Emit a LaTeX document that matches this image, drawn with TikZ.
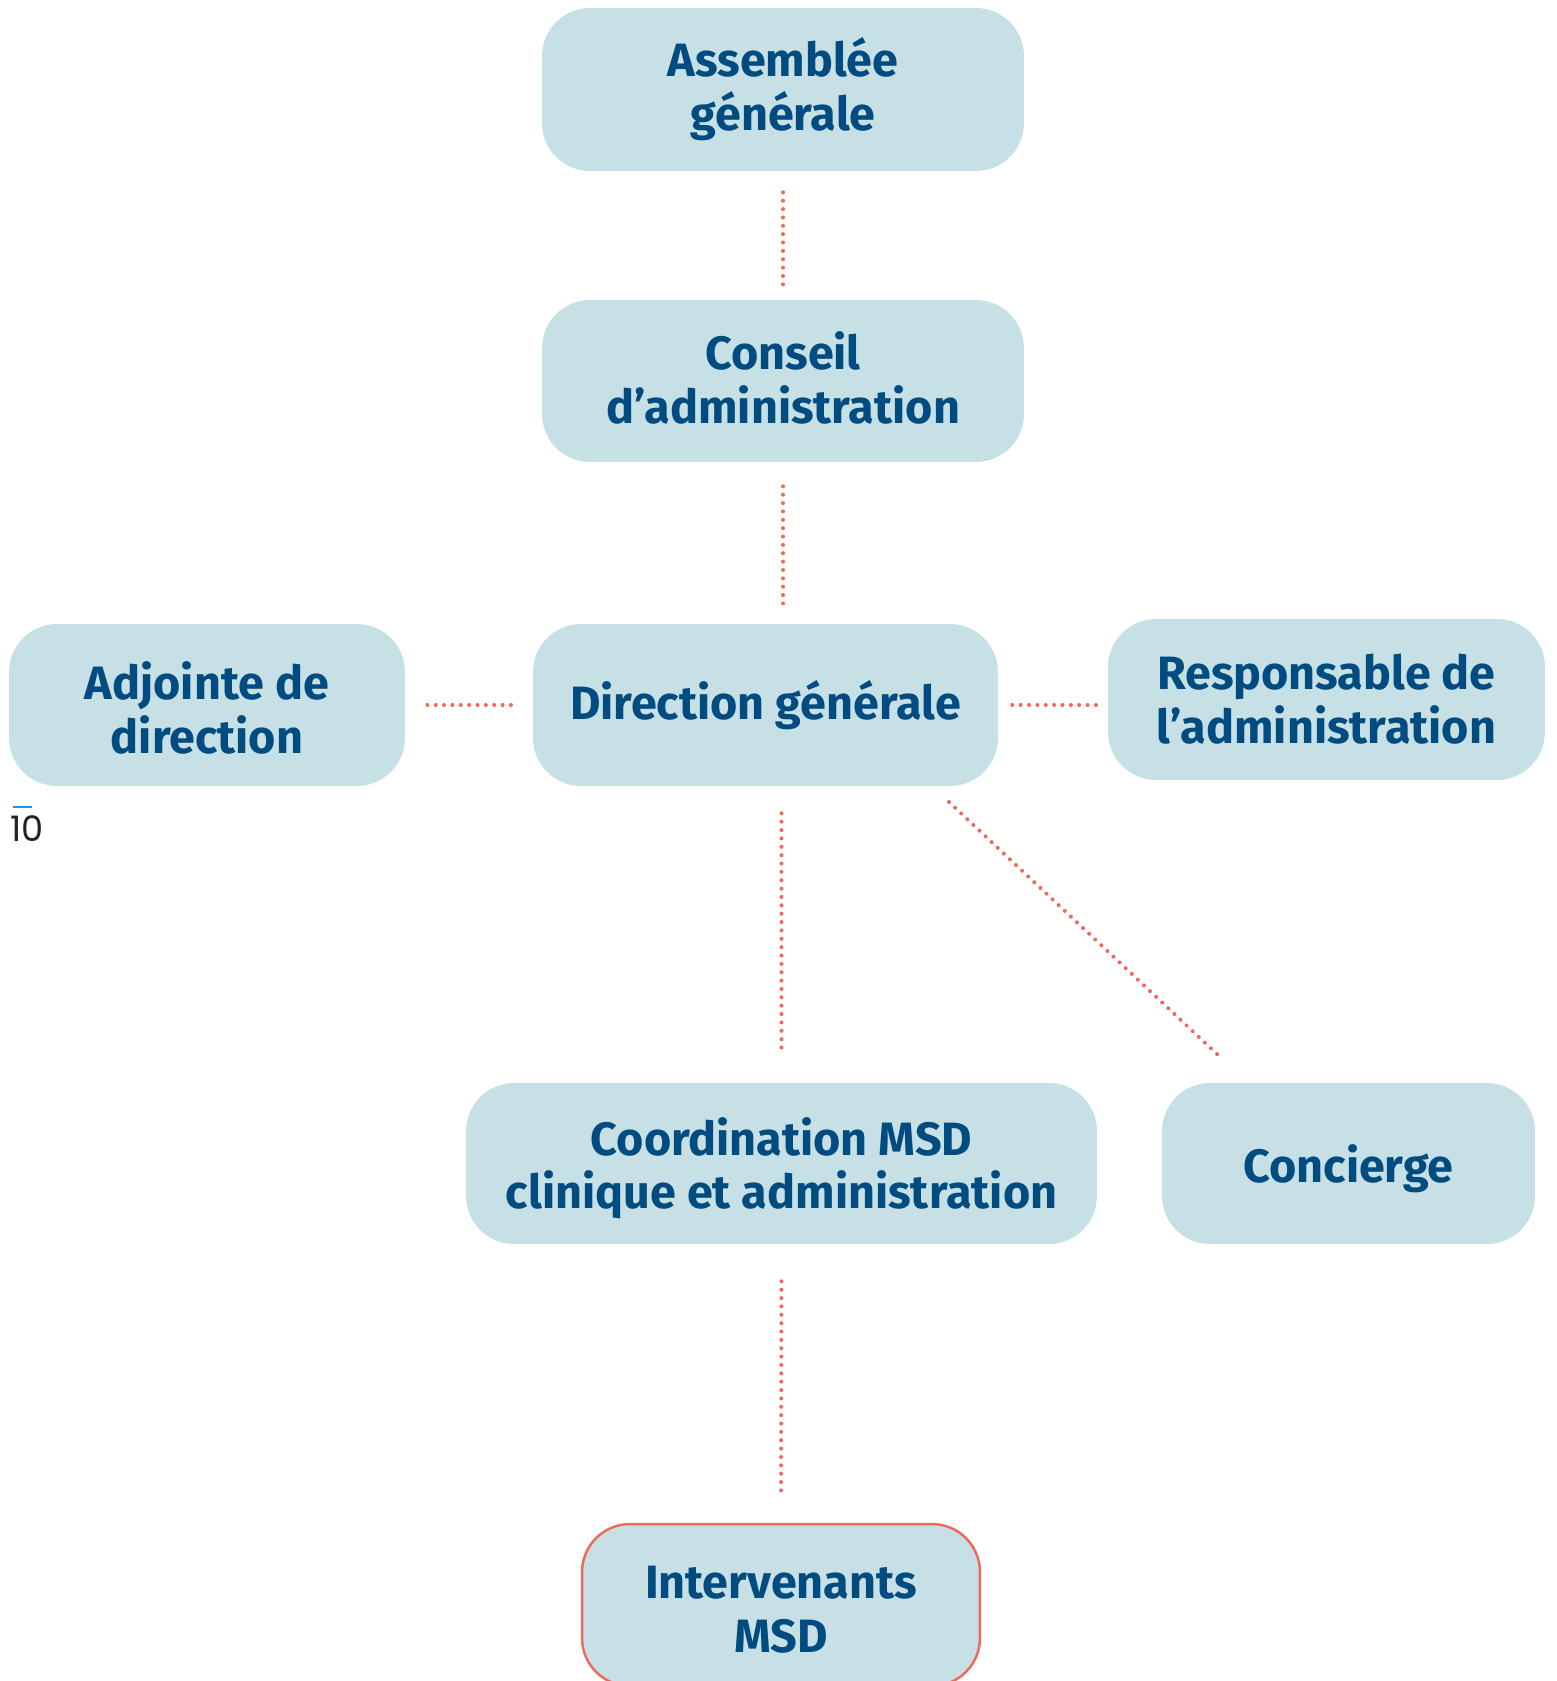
\documentclass[tikz,border=0pt]{standalone}
\usepackage{fontspec}
\setmainfont{Fira Sans}
\newfontfamily\numfont{Poppins}
\definecolor{boxfill}{HTML}{C7E0E5}
\definecolor{txtblue}{HTML}{004B7F}
\definecolor{coral}{HTML}{EE6B5C}
\definecolor{pgblue}{HTML}{1A9BD7}
\definecolor{pgnum}{HTML}{222222}
\newcommand\upstrut[1]{\rule{0pt}{#1}}
\newcommand\dnstrut[1]{\rule[-#1]{0pt}{0pt}}
\tikzset{
  orgbox/.style={rectangle, rounded corners=0.96cm, fill=boxfill, draw=none,
    inner sep=0pt, align=center, text=txtblue,
    font=\bfseries\fontsize{26.6}{30.6}\selectfont},
  dotline/.style={coral, line width=2.3pt, line cap=round,
    dash pattern=on 0pt off 4.76pt}
}
\begin{document}
\begin{tikzpicture}[x=0.02cm,y=-0.02cm]
\useasboundingbox (0,0) rectangle (1556,1681);
\begin{scope}
\clip (0,0) rectangle (1556,1681);
\node[orgbox, minimum width=9.64cm, minimum height=3.26cm] (ag) at (783,89.5) {Assemblée\\générale};
\node[orgbox, minimum width=9.64cm, minimum height=3.24cm] (ca) at (783,381) {Conseil\\d’administration\dnstrut{3.6pt}};
\node[orgbox, minimum width=9.30cm, minimum height=3.24cm] (dg) at (765.5,705) {Direction générale};
\node[orgbox, minimum width=7.92cm, minimum height=3.24cm] (adj) at (207,705) {\upstrut{24.5pt}Adjointe de\\direction};
\node[orgbox, minimum width=8.74cm, minimum height=3.22cm] (resp) at (1326.5,699.5) {Responsable de\\l’administration};
\node[orgbox, minimum width=12.62cm, minimum height=3.22cm] (coord) at (781.5,1163.5) {\upstrut{27pt}Coordination MSD\\clinique et administration};
\node[orgbox, minimum width=7.46cm, minimum height=3.22cm] (conc) at (1348.5,1163.5) {\upstrut{27.5pt}Concierge};
\node[orgbox, draw=coral, line width=1.4pt, minimum width=7.96cm, minimum height=3.24cm] (int) at (781,1605) {\upstrut{23.5pt}Intervenants\\MSD};
\end{scope}
\coordinate (d1) at (949,802);
\coordinate (d2) at (1218,1055);
\draw[dotline, shorten <=0.42cm, shorten >=0.28cm] (ag.south) -- (ca.north);
\draw[dotline, shorten <=0.48cm, shorten >=0.36cm] (ca.south) -- (ca.south |- dg.north);
\draw[dotline, shorten <=0.44cm, shorten >=0.36cm] (adj.east) -- (dg.west);
\draw[dotline, shorten <=0.28cm, shorten >=0.22cm] (dg.east) -- (dg.east -| resp.west);
\draw[dotline, shorten <=0.54cm, shorten >=0.70cm] (coord.north |- dg.south) -- (coord.north);
\draw[dotline] (d1) -- (d2);
\draw[dotline, shorten <=0.74cm, shorten >=0.56cm] (coord.south) -- (int.north);
\node[anchor=south west, inner sep=0pt, text=pgnum, font=\numfont\fontsize{20}{20}\selectfont] (pg) at (10,842) {10};
\coordinate (pl) at (13,807);
\draw[pgblue, line width=0.8pt] (pl) -- ++(19,0);
\end{tikzpicture}
\end{document}
